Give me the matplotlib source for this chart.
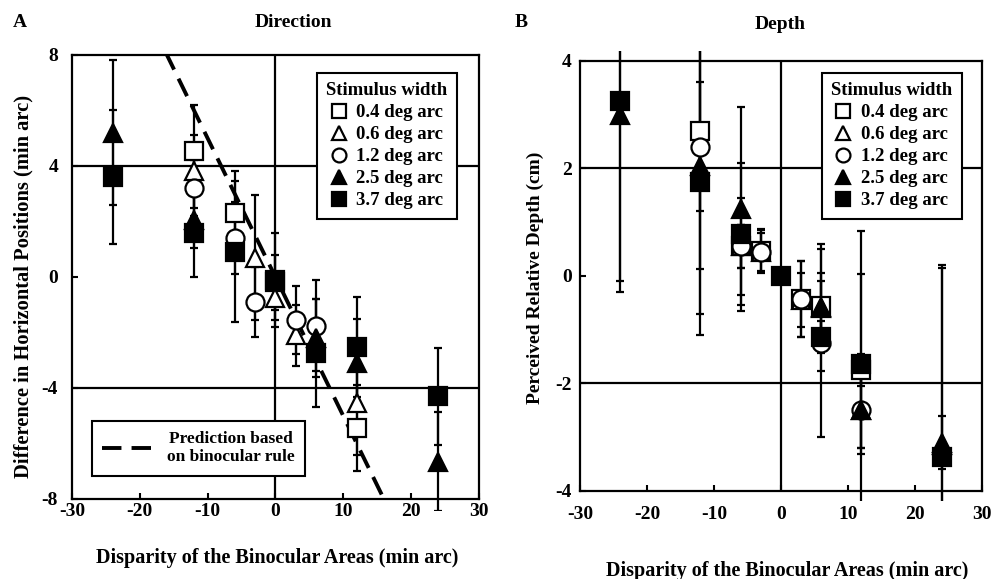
import matplotlib
matplotlib.use("Agg")
import matplotlib.pyplot as plt
from matplotlib.lines import Line2D
from matplotlib.patches import Rectangle

plt.rcParams['font.family'] = ['Liberation Serif', 'DejaVu Serif']
plt.rcParams['font.weight'] = 'bold'
plt.rcParams['axes.unicode_minus'] = False

# stimulus widths (legend) and marker styles
widths = ['0.4 deg arc', '0.6 deg arc', '1.2 deg arc', '2.5 deg arc', '3.7 deg arc']
markers = ['s', '^', 'o', '^', 's']
faces = ['white', 'white', 'white', 'black', 'black']

# panel A - direction (min arc), one list per stimulus width
dir_x_04 = [-12, -6, 0, 12]
dir_y_04 = [4.55, 2.3, -0.2, -5.45]
dir_e_04 = [1.65, 1.5, 1.0, 1.55]

dir_x_06 = [-12, -3, 0, 3, 12]
dir_y_06 = [3.8, 0.7, -0.75, -2.1, -4.55]
dir_e_06 = [1.3, 2.25, 0.8, 1.1, 1.85]

dir_x_12 = [-12, -6, -3, 3, 6]
dir_y_12 = [3.2, 1.4, -0.9, -1.55, -1.75]
dir_e_12 = [1.0, 1.3, 1.25, 1.22, 1.65]

dir_x_25 = [-24, -12, 6, 12, 24]
dir_y_25 = [5.2, 2.05, -2.2, -3.1, -6.65]
dir_e_25 = [2.6, 1.0, 1.4, 1.6, 1.8]

dir_x_37 = [-24, -12, -6, 0, 6, 12, 24]
dir_y_37 = [3.6, 1.6, 0.9, -0.1, -2.75, -2.53, -4.3]
dir_e_37 = [2.4, 1.6, 2.54, 1.7, 1.95, 1.8, 1.75]

# panel B - depth (cm)
dep_x_04 = [-12, -6, -3, 3, 6, 12]
dep_y_04 = [2.7, 0.55, 0.47, -0.43, -0.55, -1.75]
dep_e_04 = [2.57, 0.4, 0.4, 0.7, 0.6, 0.3]

dep_x_06 = [-6, -3, 3, 6, 12, 24]
dep_y_06 = [0.55, 0.45, -0.45, -0.6, -2.5, -3.1]
dep_e_06 = [0.4, 0.35, 0.5, 0.5, 0.7, 0.5]

dep_x_12 = [-12, -6, -3, 3, 6, 12]
dep_y_12 = [2.4, 0.55, 0.45, -0.43, -1.24, -2.5]
dep_e_12 = [1.2, 0.9, 0.4, 0.71, 1.75, 0.7]

dep_x_25 = [-24, -12, -6, 6, 12, 24]
dep_y_25 = [3.0, 2.05, 1.25, -0.58, -2.5, -3.15]
dep_e_25 = [3.3, 2.75, 1.9, 1.18, 3.34, 3.35]

dep_x_37 = [-24, -12, -6, 0, 6, 12, 24]
dep_y_37 = [3.25, 1.75, 0.78, 0.0, -1.14, -1.64, -3.36]
dep_e_37 = [3.35, 2.85, 1.32, 0.05, 0.3, 1.68, 3.5]

# prediction line of binocular rule (slope -0.5)
pred_x = [-30, 30]
pred_y = [15, -15]

x_ticks = [-30, -20, -10, 0, 10, 20, 30]


def draw_panel(ax, xs, ys, es, ylim, yticks, grid_y):
    clip = Rectangle((0, -0.024), 1, 1.048, transform=ax.transAxes)
    # error bars below every marker
    for x, y, e in zip(xs, ys, es):
        eb = ax.errorbar(x, y, yerr=e, fmt='none', ecolor='black', elinewidth=1.6,
                         capsize=3, capthick=1.6, zorder=2)
        for art in list(eb.lines[1]) + list(eb.lines[2]):
            art.set_clip_path(clip)
    for i, (x, y) in enumerate(zip(xs, ys)):
        ax.plot(x, y, linestyle='none', marker=markers[i], ms=13, mfc=faces[i],
                mec='black', mew=1.6, zorder=3 + i)
    for g in grid_y:
        ax.axhline(g, color='black', lw=1.6, zorder=1)
    ax.axvline(0, color='black', lw=1.6, zorder=1)
    ax.set_xlim(-30, 30)
    ax.set_ylim(*ylim)
    ax.set_xticks(x_ticks)
    ax.set_yticks(yticks)
    ax.tick_params(direction='in', length=4, width=1.5, labelsize=14)
    for s in ax.spines.values():
        s.set_linewidth(1.6)

    handles = [Line2D([], [], linestyle='none', marker=markers[i], ms=10, mfc=faces[i],
                      mec='black', mew=1.6) for i in range(5)]
    leg = ax.legend(handles, widths, title='Stimulus width', loc='upper right',
                    fontsize=13.5, title_fontsize=13.5, frameon=True, fancybox=False,
                    edgecolor='black', handlelength=0.9, handletextpad=0.5,
                    labelspacing=0.26, borderpad=0.5, borderaxespad=0, framealpha=1)
    leg.get_frame().set_linewidth(1.5)
    leg.get_title().set_fontweight('bold')
    leg.set_zorder(10)
    return leg


fig = plt.figure(figsize=(9.97, 5.79), dpi=100)
axA = fig.add_axes([0.0722, 0.1382, 0.408, 0.767])
axB = fig.add_axes([0.5817, 0.152, 0.403, 0.7427])

legA = draw_panel(axA, [dir_x_04, dir_x_06, dir_x_12, dir_x_25, dir_x_37],
                  [dir_y_04, dir_y_06, dir_y_12, dir_y_25, dir_y_37],
                  [dir_e_04, dir_e_06, dir_e_12, dir_e_25, dir_e_37],
                  (-8, 8), [-8, -4, 0, 4, 8], [-4, 4])
legA.set_bbox_to_anchor((0.946, 0.959), transform=axA.transAxes)
axA.tick_params(axis='x', pad=3)
axA.tick_params(axis='y', pad=10)

pred, = axA.plot(pred_x, pred_y, color='black', lw=2.8, linestyle='--',
                 dashes=(5, 2.6), zorder=2.5)
legP = axA.legend([pred], ['Prediction based\non binocular rule'], loc='lower left',
                  bbox_to_anchor=(0.049, 0.052), fontsize=12.5, frameon=True, fancybox=False,
                  edgecolor='black', handlelength=3.0, handletextpad=0.7, borderpad=0.6,
                  borderaxespad=0, framealpha=1)
legP.get_frame().set_linewidth(1.5)
legP.get_texts()[0].set_multialignment('center')
axA.add_artist(legA)

legB = draw_panel(axB, [dep_x_04, dep_x_06, dep_x_12, dep_x_25, dep_x_37],
                  [dep_y_04, dep_y_06, dep_y_12, dep_y_25, dep_y_37],
                  [dep_e_04, dep_e_06, dep_e_12, dep_e_25, dep_e_37],
                  (-4, 4), [-4, -2, 0, 2, 4], [-2, 2])
legB.set_bbox_to_anchor((0.950, 0.972), transform=axB.transAxes)
axB.tick_params(axis='x', pad=11)
axB.tick_params(axis='y', pad=6)

# panel letters, titles and axis labels
fig.text(0.020, 0.962, 'A', fontsize=14, ha='center', va='center')
fig.text(0.294, 0.962, 'Direction', fontsize=14, ha='center', va='center')
fig.text(0.523, 0.962, 'B', fontsize=14, ha='center', va='center')
fig.text(0.782, 0.958, 'Depth', fontsize=14, ha='center', va='center')
fig.text(0.278, 0.036, 'Disparity of the Binocular Areas (min arc)', fontsize=14.5,
         ha='center', va='center')
fig.text(0.790, 0.014, 'Disparity of the Binocular Areas (min arc)', fontsize=14.5,
         ha='center', va='center')
fig.text(0.024, 0.505, 'Difference in Horizontal Positions (min arc)', fontsize=14.8,
         ha='center', va='center', rotation=90)
fig.text(0.537, 0.52, 'Perceived Relative Depth (cm)', fontsize=14,
         ha='center', va='center', rotation=90)

fig.savefig('out.png', dpi=100)
